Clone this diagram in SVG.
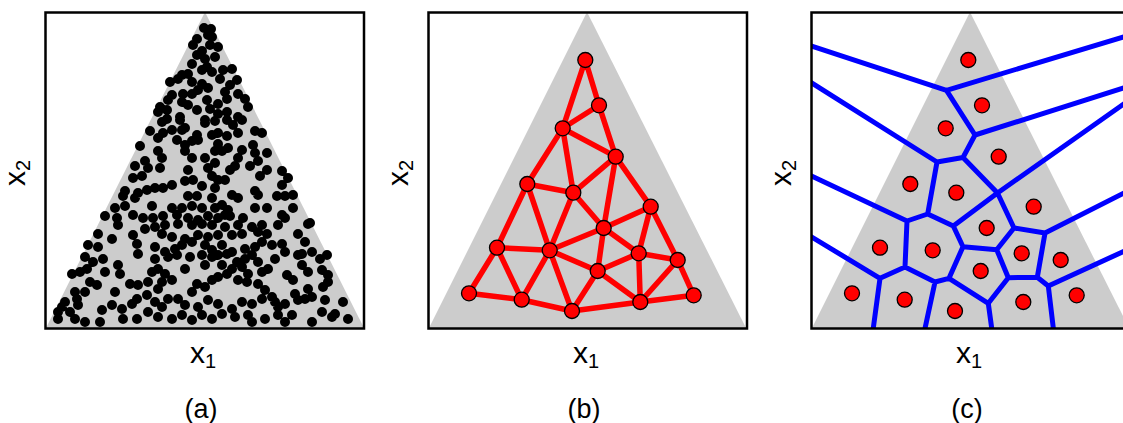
<svg xmlns="http://www.w3.org/2000/svg" width="1123" height="423" viewBox="0 0 1123 423">
<style>
.frame{fill:none;stroke:#000;stroke-width:2.5}
.tri{fill:#cccccc}
.lbl{font-family:"Liberation Sans",Arial,Helvetica,sans-serif;fill:#000}
.ax{font-size:30px}
.sub{font-size:20px}
.cap{font-size:27px}
.dots{fill:none;stroke:#000;stroke-width:10;stroke-linecap:round}
.dedge{stroke:#ff0000;stroke-width:5.5;stroke-linecap:round;fill:none}
.node{fill:#ff0000;stroke:#000;stroke-width:1.3}
.vor{stroke:#0000ff;stroke-width:5;fill:none;stroke-linecap:round;stroke-linejoin:round}
</style>
<defs>
<clipPath id="clipc"><rect x="811" y="12" width="320" height="316"/></clipPath>
</defs>
<rect width="1123" height="423" fill="#fff"/>

<g id="panel-a">
<polygon class="tri" points="46,328 205,12 364,328"/>
<path class="dots" d="M204 28h.01M211 29h.01M208 35h.01M197 39h.01M193 45h.01M212 37h.01M218 47h.01M210 45h.01M202 51h.01M197 55h.01M192 64h.01M205 59h.01M215 57h.01M207 67h.01M202 70h.01M212 72h.01M220 79h.01M223 70h.01M232 69h.01M182 75h.01M188 74h.01M170 82h.01M178 79h.01M192 82h.01M198 90h.01M208 88h.01M202 84h.01M183 94h.01M192 94h.01M172 95h.01M168 100h.01M160 107h.01M167 110h.01M158 112h.01M182 102h.01M188 105h.01M197 110h.01M207 100h.01M210 109h.01M218 104h.01M225 92h.01M227 99h.01M230 85h.01M237 80h.01M238 94h.01M245 99h.01M248 107h.01M218 114h.01M227 112h.01M180 117h.01M205 120h.01M238 117h.01M167 119h.01
M162 122h.01M180 120h.01M205 123h.01M215 121h.01M227 120h.01M233 125h.01M242 120h.01M150 131h.01M163 133h.01M172 130h.01M182 130h.01M185 128h.01M197 135h.01M212 135h.01M218 133h.01M227 136h.01M238 133h.01M255 131h.01M262 133h.01M140 146h.01M158 138h.01M177 140h.01M185 145h.01M192 141h.01M198 140h.01M218 144h.01M228 148h.01M222 151h.01M215 151h.01M242 150h.01M253 145h.01M255 153h.01M267 153h.01M158 151h.01M162 158h.01M185 151h.01M145 161h.01M135 166h.01M148 168h.01M160 168h.01M192 158h.01M205 158h.01M215 163h.01M208 168h.01M188 170h.01M230 170h.01M235 166h.01M238 158h.01M250 166h.01M258 161h.01M267 170h.01M282 171h.01M133 178h.01M142 176h.01M185 181h.01M193 180h.01M202 186h.01M212 176h.01M218 180h.01M225 180h.01M215 188h.01M260 176h.01M288 178h.01M282 185h.01M172 185h.01M163 188h.01M155 188h.01M147 190h.01M138 193h.01M125 191h.01M123 196h.01M135 198h.01M188 196h.01M197 196h.01M212 198h.01M232 195h.01M238 198h.01M255 191h.01M258 195h.01M277 196h.01M293 195h.01M285 196h.01M152 206h.01M115 208h.01M125 206h.01M133 215h.01M172 208h.01M182 208h.01M192 206h.01M202 208h.01M215 208h.01M222 205h.01M228 210h.01M225 215h.01M105 216h.01M117 218h.01M143 218h.01M153 218h.01M163 216h.01M177 215h.01M188 218h.01M198 220h.01M208 216h.01M218 218h.01M230 216h.01M243 218h.01M255 208h.01M267 208h.01M282 215h.01M285 218h.01M293 208h.01M310 223h.01
M118 225h.01M145 229h.01M155 227h.01M165 225h.01M178 224h.01M192 225h.01M202 224h.01M212 225h.01M225 227h.01M238 225h.01M252 227h.01M262 225h.01M278 225h.01M308 224h.01M98 234h.01M112 239h.01M133 235h.01M162 234h.01M172 237h.01M185 239h.01M198 235h.01M208 237h.01M218 235h.01M232 235h.01M242 234h.01M258 232h.01M267 234h.01M298 234h.01M305 242h.01M88 245h.01M98 247h.01M137 244h.01M138 254h.01M155 247h.01M165 252h.01M175 249h.01M182 245h.01M192 242h.01M205 245h.01M212 250h.01M222 245h.01M232 252h.01M245 249h.01M255 247h.01M262 242h.01M272 245h.01M282 244h.01M312 252h.01M302 254h.01M85 257h.01M93 262h.01M103 259h.01M155 259h.01M168 257h.01M177 255h.01M190 257h.01M202 255h.01M212 257h.01M218 255h.01M227 254h.01M237 262h.01M245 259h.01M252 255h.01M258 262h.01M275 259h.01M285 252h.01M298 255h.01M320 259h.01M327 255h.01M72 274h.01M80 272h.01M87 269h.01M105 272h.01M118 265h.01M120 274h.01M152 272h.01M158 269h.01M165 274h.01M185 269h.01M205 265h.01M222 265h.01M232 269h.01M242 267h.01M248 274h.01M262 272h.01M268 269h.01M287 275h.01M302 265h.01M308 272h.01M322 270h.01M328 275h.01M293 280h.01M90 282h.01M97 285h.01M85 292h.01M115 292h.01M130 284h.01M138 285h.01M148 282h.01M158 289h.01M162 282h.01M172 280h.01M197 284h.01M192 292h.01M205 287h.01M212 280h.01M218 277h.01M227 274h.01M238 280h.01M247 282h.01M258 284h.01M265 290h.01M272 297h.01M295 294h.01M308 289h.01M312 297h.01M323 287h.01M328 282h.01M75 292h.01M77 299h.01M65 302h.01M62 307h.01M78 305h.01M102 310h.01M112 305h.01M122 309h.01M132 304h.01M137 299h.01M147 295h.01M155 302h.01M162 307h.01M168 299h.01M178 299h.01M185 305h.01M198 307h.01M208 300h.01M218 304h.01M232 309h.01M242 302h.01M252 304h.01M262 299h.01M275 302h.01M278 307h.01M285 304h.01M298 300h.01M305 299h.01M325 300h.01M335 314h.01M343 302h.01M58 312h.01M58 319h.01M70 312h.01M75 319h.01M85 322h.01M100 322h.01M123 319h.01M137 319h.01M148 312h.01M158 317h.01M172 319h.01M182 315h.01M192 320h.01M202 315h.01M212 319h.01M222 314h.01M235 317h.01M248 315h.01M252 322h.01M265 319h.01M278 315h.01M285 322h.01M292 315h.01M312 322h.01M322 312h.01M332 317h.01M348 319h.01"/>
<rect class="frame" x="45.5" y="12.5" width="318.5" height="316"/>
<text class="lbl ax" x="203" y="363" text-anchor="middle">x<tspan class="sub" dy="5">1</tspan></text>
<text class="lbl ax" transform="translate(25,173) rotate(-90)" text-anchor="middle">x<tspan class="sub" dy="5">2</tspan></text>
<text class="lbl cap" x="201" y="418" text-anchor="middle">(a)</text>
</g>

<g id="panel-b">
<polygon class="tri" points="429,328 587,12 746,328"/>
<g id="b-connectors">
<path class="dedge" d="M585.3 60L599 105.3M585.3 60L562.7 128.3M599 105.3L562.7 128.3M599 105.3L615.7 156.7M562.7 128.3L615.7 156.7M562.7 128.3L527.3 184M562.7 128.3L573.3 192.7M615.7 156.7L573.3 192.7M615.7 156.7L650.7 206.7M615.7 156.7L603.7 228M527.3 184L573.3 192.7M527.3 184L497 247.7M527.3 184L549.7 250.3M573.3 192.7L549.7 250.3M573.3 192.7L603.7 228M650.7 206.7L603.7 228M650.7 206.7L638.7 253.3M650.7 206.7L677.7 260M603.7 228L549.7 250.3M603.7 228L638.7 253.3M603.7 228L597.7 271M497 247.7L549.7 250.3M497 247.7L469 293.3M497 247.7L521.7 299.7M549.7 250.3L521.7 299.7M549.7 250.3L572 311M549.7 250.3L597.7 271M638.7 253.3L597.7 271M638.7 253.3L677.7 260M638.7 253.3L640.3 302M597.7 271L572 311M597.7 271L640.3 302M677.7 260L640.3 302M677.7 260L693.7 295.3M469 293.3L521.7 299.7M521.7 299.7L572 311M572 311L640.3 302M640.3 302L693.7 295.3"/>
</g>
<g id="b-A"><circle class="node" cx="585.3" cy="60" r="7.5"/></g>
<g id="b-B"><circle class="node" cx="599" cy="105.3" r="7.5"/></g>
<g id="b-C"><circle class="node" cx="562.7" cy="128.3" r="7.5"/></g>
<g id="b-D"><circle class="node" cx="615.7" cy="156.7" r="7.5"/></g>
<g id="b-E"><circle class="node" cx="527.3" cy="184" r="7.5"/></g>
<g id="b-F"><circle class="node" cx="573.3" cy="192.7" r="7.5"/></g>
<g id="b-G"><circle class="node" cx="650.7" cy="206.7" r="7.5"/></g>
<g id="b-H"><circle class="node" cx="603.7" cy="228" r="7.5"/></g>
<g id="b-I"><circle class="node" cx="497" cy="247.7" r="7.5"/></g>
<g id="b-J"><circle class="node" cx="549.7" cy="250.3" r="7.5"/></g>
<g id="b-K"><circle class="node" cx="638.7" cy="253.3" r="7.5"/></g>
<g id="b-L"><circle class="node" cx="597.7" cy="271" r="7.5"/></g>
<g id="b-M"><circle class="node" cx="677.7" cy="260" r="7.5"/></g>
<g id="b-N"><circle class="node" cx="469" cy="293.3" r="7.5"/></g>
<g id="b-O"><circle class="node" cx="521.7" cy="299.7" r="7.5"/></g>
<g id="b-P"><circle class="node" cx="572" cy="311" r="7.5"/></g>
<g id="b-Q"><circle class="node" cx="640.3" cy="302" r="7.5"/></g>
<g id="b-R"><circle class="node" cx="693.7" cy="295.3" r="7.5"/></g>
<rect class="frame" x="428.5" y="12.5" width="318.5" height="316"/>
<text class="lbl ax" x="586" y="363" text-anchor="middle">x<tspan class="sub" dy="5">1</tspan></text>
<text class="lbl ax" transform="translate(408,173) rotate(-90)" text-anchor="middle">x<tspan class="sub" dy="5">2</tspan></text>
<text class="lbl cap" x="584" y="418" text-anchor="middle">(b)</text>
</g>

<g id="panel-c">
<polygon class="tri" points="812,328 970,12 1129,328"/>
<g id="c-voronoi" clip-path="url(#clipc)">
<path class="vor" d="M805 44L946.5 90.3M946.5 90.3L1130 35M946.5 90.3L975 135M975 135L1130 86M975 135L963 157.5M805 78.7L937 162M937 162L963 157.5M963 157.5L997.5 193M997.5 193L1130 99.5M937 162L927.7 214M805 173L907 221M907 221L927.7 214M927.7 214L953.3 226M953.3 226L997.5 193M997.5 193L1014 228M1014 228L1045 233M1045 233L1130 190M953.3 226L963 246.7M963 246.7L996.7 249.7M996.7 249.7L1014 228M907 221L905 267M805 233L880 278.3M880 278.3L905 267M880 278.3L872.5 334M905 267L935 282M935 282L923.8 334M935 282L949 278.3M949 278.3L963 246.7M949 278.3L988.3 303.3M988.3 303.3L992.5 334M988.3 303.3L1008.3 277.7M1008.3 277.7L996.7 249.7M1008.3 277.7L1037.3 277.3M1037.3 277.3L1045 233M1037.3 277.3L1048.3 286M1048.3 286L1130 248.5M1048.3 286L1054 334"/>
</g>
<g id="c-A"><circle class="node" cx="968.3" cy="60" r="7.5"/></g>
<g id="c-B"><circle class="node" cx="982" cy="105.3" r="7.5"/></g>
<g id="c-C"><circle class="node" cx="945.7" cy="128.3" r="7.5"/></g>
<g id="c-D"><circle class="node" cx="998.7" cy="156.7" r="7.5"/></g>
<g id="c-E"><circle class="node" cx="910.3" cy="184" r="7.5"/></g>
<g id="c-F"><circle class="node" cx="956.3" cy="192.7" r="7.5"/></g>
<g id="c-G"><circle class="node" cx="1033.7" cy="206.7" r="7.5"/></g>
<g id="c-H"><circle class="node" cx="986.7" cy="228" r="7.5"/></g>
<g id="c-I"><circle class="node" cx="880" cy="247.7" r="7.5"/></g>
<g id="c-J"><circle class="node" cx="932.7" cy="250.3" r="7.5"/></g>
<g id="c-K"><circle class="node" cx="1021.7" cy="253.3" r="7.5"/></g>
<g id="c-L"><circle class="node" cx="980.7" cy="271" r="7.5"/></g>
<g id="c-M"><circle class="node" cx="1060.7" cy="260" r="7.5"/></g>
<g id="c-N"><circle class="node" cx="852" cy="293.3" r="7.5"/></g>
<g id="c-O"><circle class="node" cx="904.7" cy="299.7" r="7.5"/></g>
<g id="c-P"><circle class="node" cx="955" cy="311" r="7.5"/></g>
<g id="c-Q"><circle class="node" cx="1023.3" cy="302" r="7.5"/></g>
<g id="c-R"><circle class="node" cx="1076.7" cy="295.3" r="7.5"/></g>
<rect class="frame" x="811.5" y="12.5" width="318.5" height="316"/>
<text class="lbl ax" x="969" y="363" text-anchor="middle">x<tspan class="sub" dy="5">1</tspan></text>
<text class="lbl ax" transform="translate(791,173) rotate(-90)" text-anchor="middle">x<tspan class="sub" dy="5">2</tspan></text>
<text class="lbl cap" x="967" y="418" text-anchor="middle">(c)</text>
</g>
</svg>
